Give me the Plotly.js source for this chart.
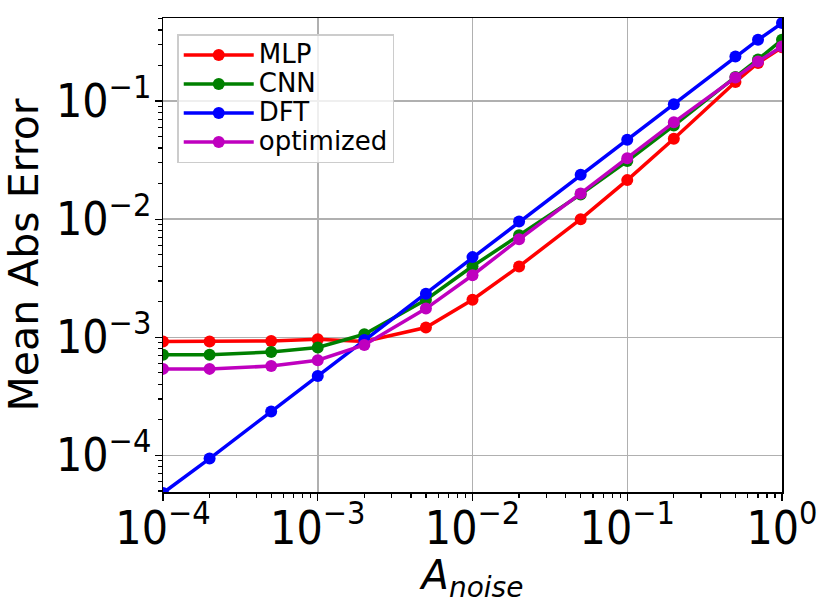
<!DOCTYPE html>
<html>
<head>
<meta charset="utf-8">
<script src="https://cdn.plot.ly/plotly-3.0.1.min.js"></script>
<style>
  body { margin: 0; background: #fff; }
  #chart { width: 830px; height: 604px; }
</style>
</head>
<body>
<div id="chart"></div>
<script>
var noise = [1e-4, 2e-4, 5e-4, 1e-3, 2e-3, 5e-3, 1e-2, 2e-2, 5e-2, 0.1, 0.2, 0.5, 0.7, 1.0];

var mlp = [9.2e-4, 9.2e-4, 9.3e-4, 9.6e-4, 9.2e-4, 1.21e-3, 2.08e-3, 3.98e-3, 1.0e-2, 2.14e-2, 4.8e-2, 0.145, 0.21, 0.285];
var cnn = [7.1e-4, 7.1e-4, 7.5e-4, 8.2e-4, 1.06e-3, 2.08e-3, 3.99e-3, 7.3e-3, 1.62e-2, 3.1e-2, 6.2e-2, 0.16, 0.225, 0.33];
var dft = [4.8e-5, 9.4e-5, 2.35e-4, 4.7e-4, 9.5e-4, 2.34e-3, 4.77e-3, 9.55e-3, 2.38e-2, 4.7e-2, 9.4e-2, 0.238, 0.33, 0.457];
var optimized = [5.4e-4, 5.4e-4, 5.7e-4, 6.4e-4, 8.6e-4, 1.75e-3, 3.35e-3, 6.75e-3, 1.65e-2, 3.28e-2, 6.6e-2, 0.158, 0.216, 0.29];

var xTickVals = [1e-4, 1e-3, 1e-2, 1e-1, 1];
var xTickText = ['10<sup>\u22124</sup>', '10<sup>\u22123</sup>', '10<sup>\u22122</sup>', '10<sup>\u22121</sup>', '10<sup>0</sup>'];
var yTickVals = [1e-4, 1e-3, 1e-2, 1e-1];
var yTickText = ['10<sup>\u22124</sup>', '10<sup>\u22123</sup>', '10<sup>\u22122</sup>', '10<sup>\u22121</sup>'];

var names = ['MLP', 'CNN', 'DFT', 'optimized'];
var colors = ['#ff0000', '#008000', '#0000ff', '#bf00bf'];
var series = [mlp, cnn, dft, optimized];

var data = series.map(function (ys, i) {
  return {
    x: noise,
    y: ys,
    // bigger text than the legend font so rows stay tight like matplotlib
    name: '<span style="font-size:26px">' + names[i] + '</span>',
    type: 'scatter',
    mode: 'lines+markers',
    line: { color: colors[i], width: 3.5 },
    marker: { color: colors[i], size: 12 }
  };
});

// tick labels look narrow in the original, condensed face gets close
var tickFont = { family: 'DejaVu Sans Condensed, DejaVu Sans', size: 46, color: '#000' };

var layout = {
  width: 830,
  height: 604,
  margin: { l: 163, r: 48, t: 18, b: 112 },
  paper_bgcolor: '#fff',
  plot_bgcolor: '#fff',
  font: { family: 'DejaVu Sans', color: '#000' },
  showlegend: true,
  legend: {
    x: 0.023, y: 0.966, xanchor: 'left', yanchor: 'top',
    bgcolor: 'rgba(255,255,255,0.8)',
    bordercolor: '#cccccc', borderwidth: 1.5,
    font: { family: 'DejaVu Sans', size: 20, color: '#000' },
    itemwidth: 70,
    tracegroupgap: 0
  },
  xaxis: {
    type: 'log',
    range: [-4, 0],
    tickvals: xTickVals,
    ticktext: xTickText,
    tickfont: tickFont,
    ticks: 'outside', ticklen: 7, tickwidth: 1.2, tickcolor: '#000',
    ticklabelstandoff: -12,
    showgrid: true, gridcolor: '#b0b0b0', gridwidth: 1.5,
    showline: true, linecolor: '#000', linewidth: 1.5, mirror: true,
    zeroline: false,
    minor: { dtick: 'D1', ticks: 'outside', ticklen: 4, tickcolor: '#000', showgrid: false },
    title: { text: '<i>A</i><sub><i>noise</i></sub>', font: { family: 'DejaVu Sans', size: 40 }, standoff: 0 }
  },
  yaxis: {
    type: 'log',
    range: [-4.31, -0.297],
    tickvals: yTickVals,
    ticktext: yTickText,
    tickfont: tickFont,
    ticks: 'outside', ticklen: 7, tickwidth: 1.2, tickcolor: '#000',
    ticklabelstandoff: -6,
    showgrid: true, gridcolor: '#b0b0b0', gridwidth: 1.5,
    showline: true, linecolor: '#000', linewidth: 1.5, mirror: true,
    zeroline: false,
    minor: { dtick: 'D1', ticks: 'outside', ticklen: 4, tickcolor: '#000', showgrid: false },
    title: { text: 'Mean Abs Error', font: { family: 'DejaVu Sans', size: 41 }, standoff: 8 }
  }
};

Plotly.newPlot('chart', data, layout, { displayModeBar: false, staticPlot: true });
</script>
</body>
</html>
